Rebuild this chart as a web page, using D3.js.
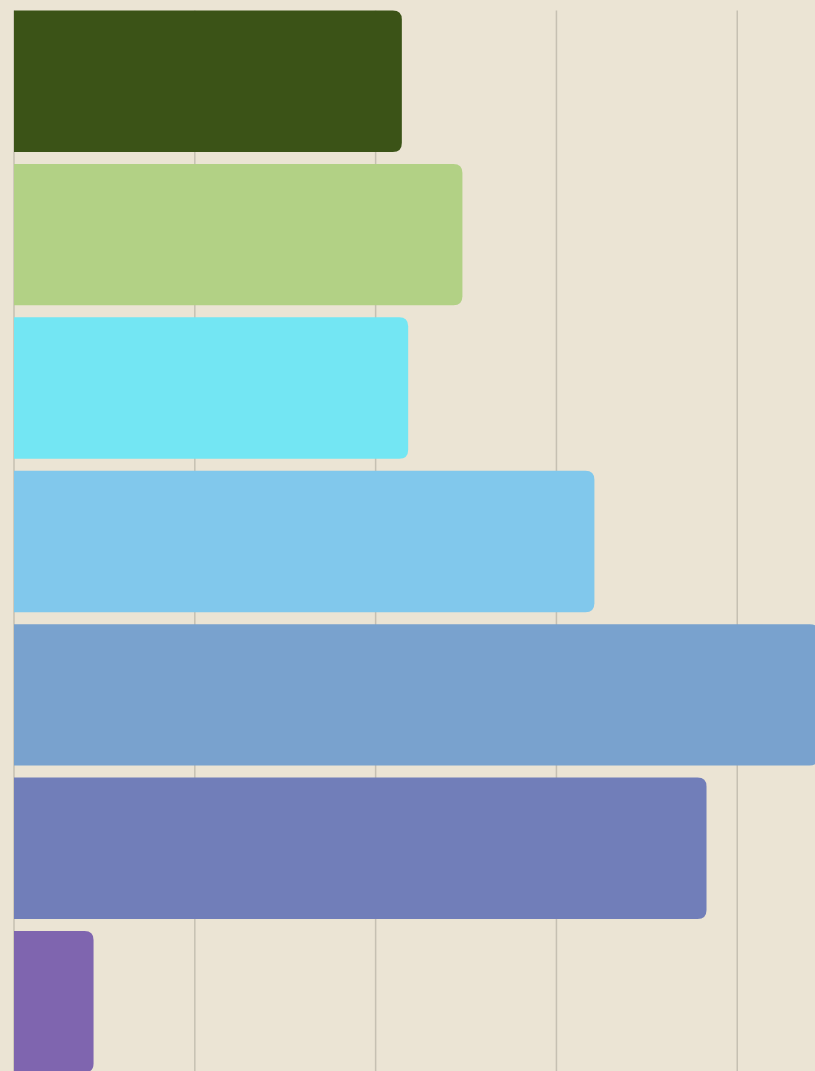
<!DOCTYPE html>
<html>
<head>
<meta charset="utf-8">
<script src="https://cdn.jsdelivr.net/npm/d3@7"></script>
<style>
  html, body { margin: 0; padding: 0; background: #ebe4d4; overflow: hidden; }
</style>
</head>
<body>
<div id="container"></div>
<script>
// data (no labels shown in the reference)
const categories = ["A", "B", "C", "D", "E", "F", "G"];
const values = [21.45, 24.8, 21.8, 32.1, 44.5, 38.3, 4.4];
const colors = ["#3b5317", "#b2d185", "#73e6f3", "#81c8ec", "#79a2ce", "#717eb9", "#7f65af"];
const tickValues = [0, 10, 20, 30, 40];

const width = 815,
      height = 1071,
      margin = { top: 10.5, left: 14 },
      radius = 9;

const svg = d3.select("#container")
  .append("svg")
  .attr("width", width)
  .attr("height", height);

svg.append("rect")
  .attr("width", width)
  .attr("height", height)
  .attr("fill", "#ebe4d4");

const xScale = d3.scaleLinear()
  .domain([0, 44.3])
  .range([margin.left, width]);

const yScale = d3.scaleBand()
  .domain(categories)
  .range([margin.top, 1072.4])
  .paddingInner(0.078)
  .paddingOuter(0);

// vertical grid lines behind the bars
svg.selectAll(".grid")
  .data(tickValues)
  .join("line")
  .attr("class", "grid")
  .attr("x1", d => xScale(d))
  .attr("x2", d => xScale(d))
  .attr("y1", margin.top)
  .attr("y2", height)
  .attr("stroke", "#c6c0b2")
  .attr("stroke-width", 1.5);

// bar with square left side and rounded right side
function barPath(x0, x1, y0, h, r) {
  const rr = Math.min(r, (x1 - x0) / 2, h / 2);
  return `M${x0},${y0}H${x1 - rr}Q${x1},${y0} ${x1},${y0 + rr}` +
         `V${y0 + h - rr}Q${x1},${y0 + h} ${x1 - rr},${y0 + h}H${x0}Z`;
}

svg.selectAll(".bar")
  .data(categories.map((c, i) => ({ cat: c, value: values[i], color: colors[i] })))
  .join("path")
  .attr("class", "bar")
  .attr("d", d => barPath(xScale(0), xScale(d.value), yScale(d.cat), yScale.bandwidth(), radius))
  .attr("fill", d => d.color);
</script>
</body>
</html>
